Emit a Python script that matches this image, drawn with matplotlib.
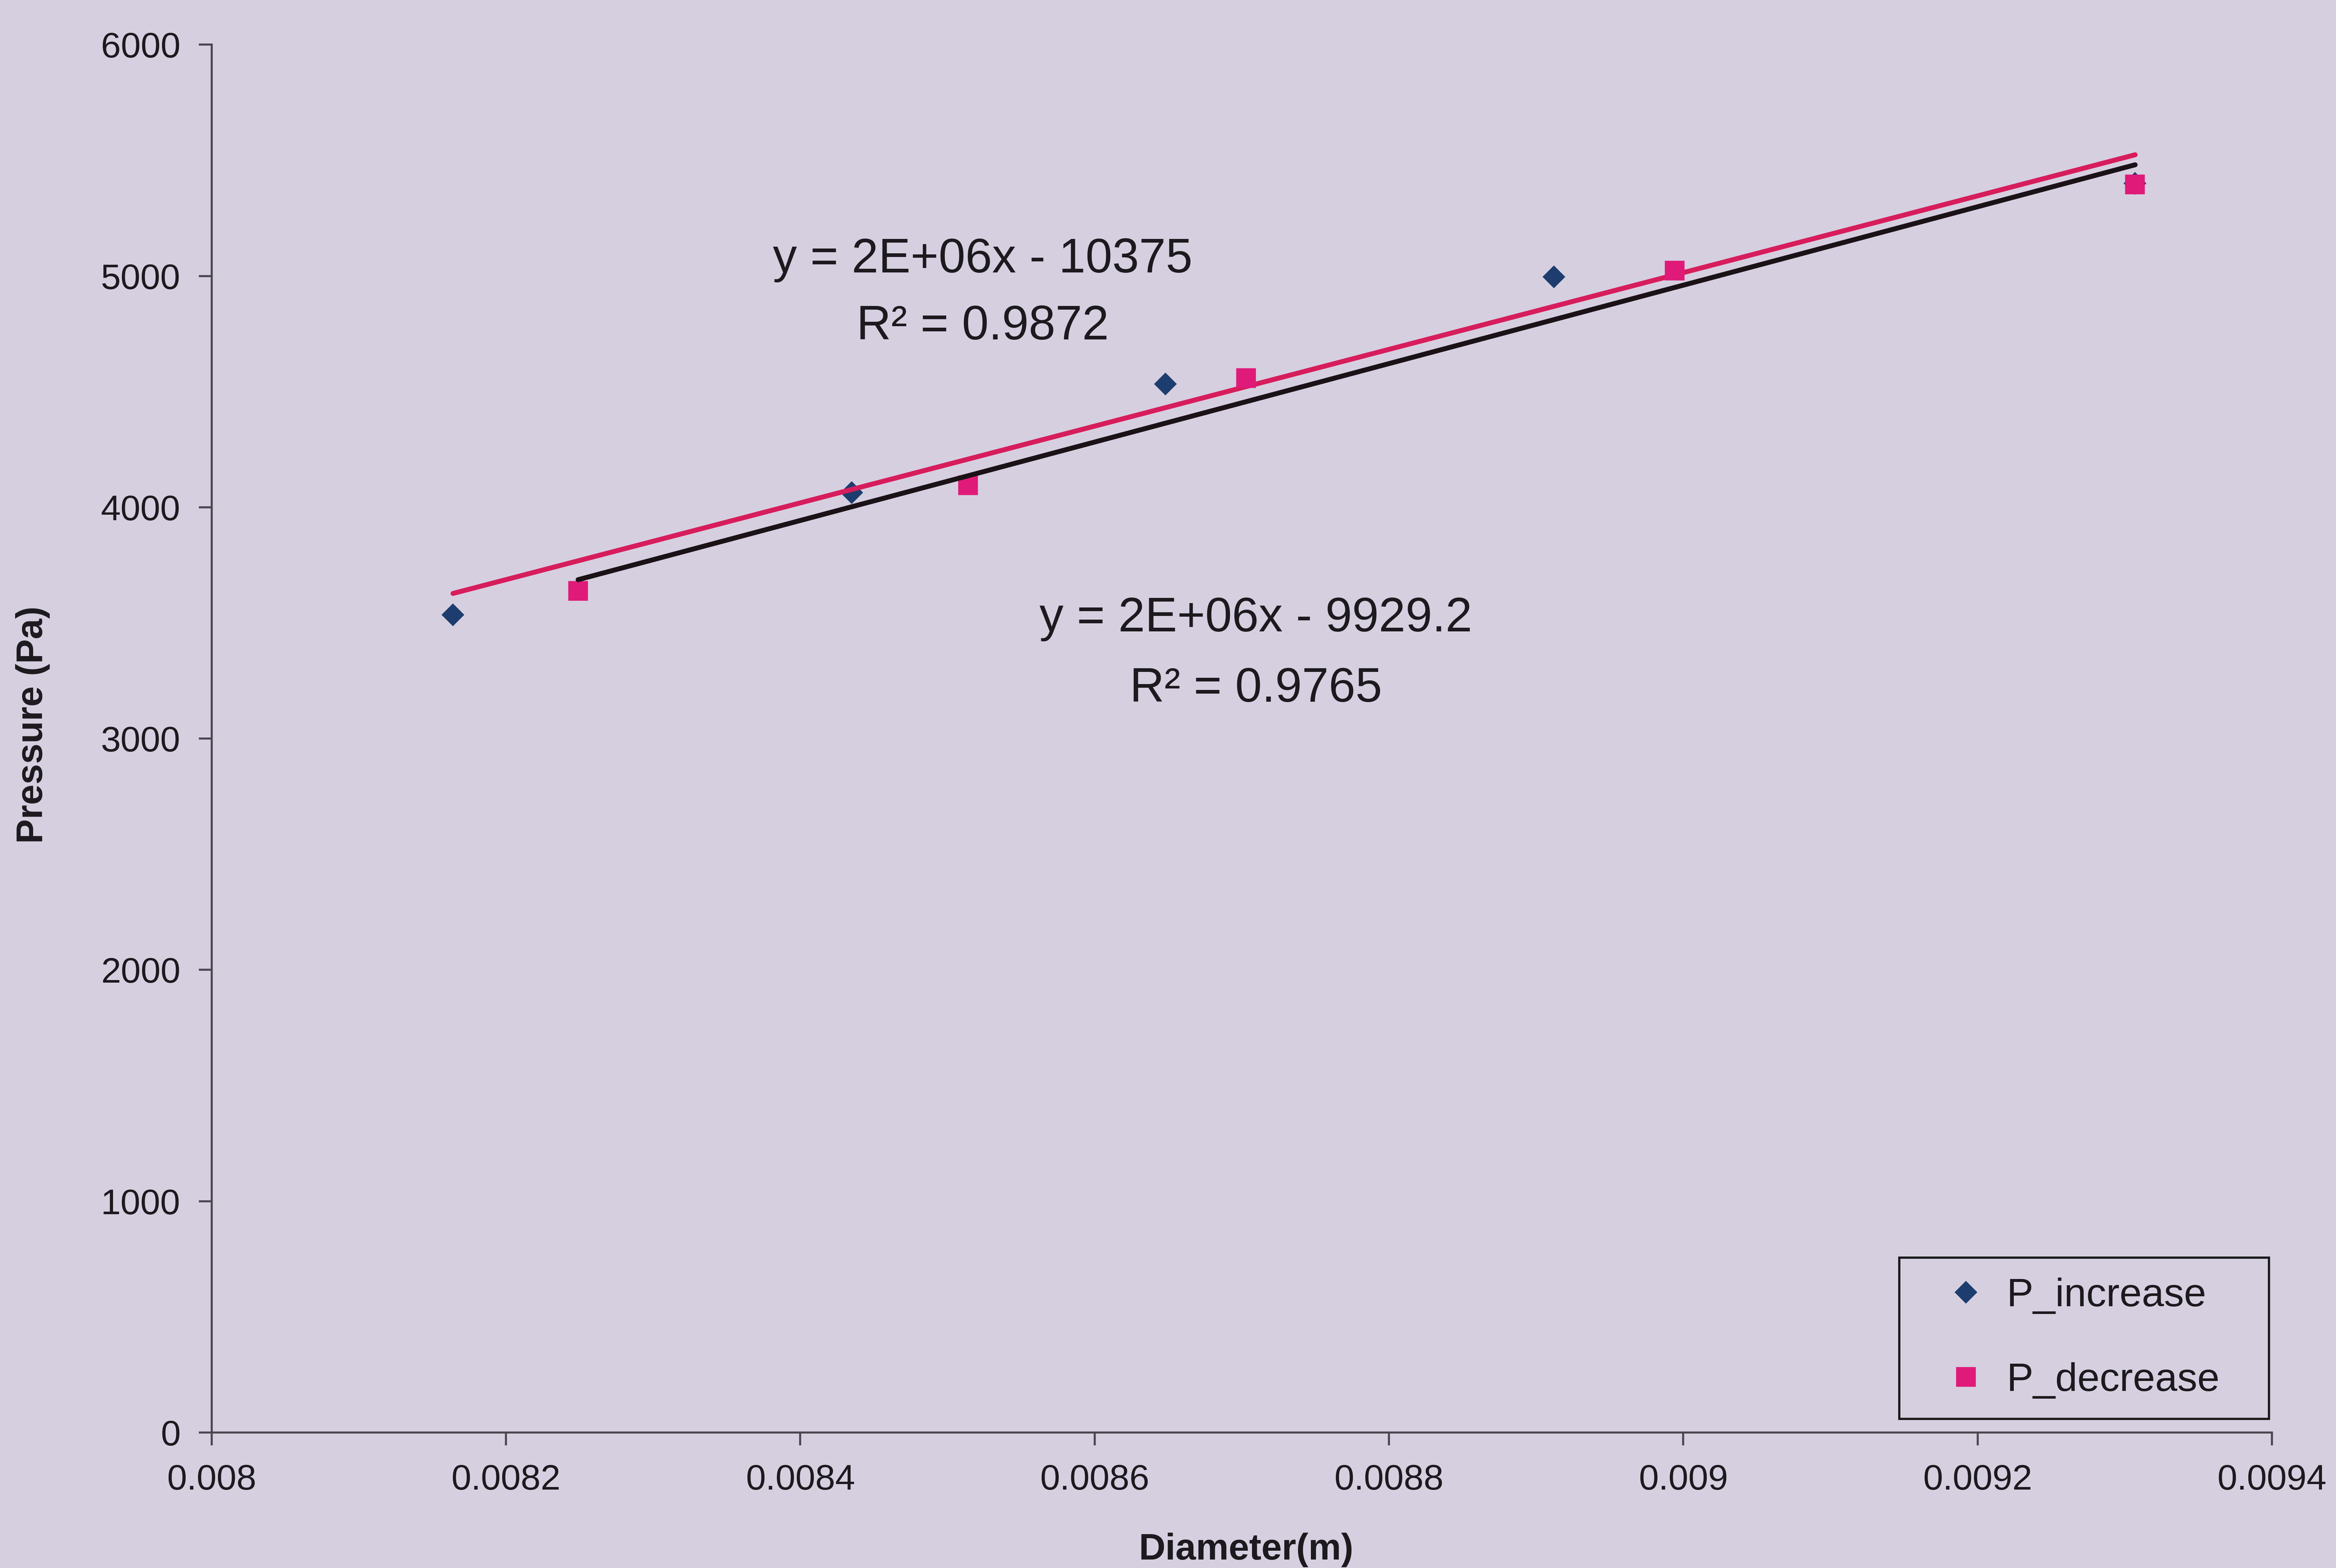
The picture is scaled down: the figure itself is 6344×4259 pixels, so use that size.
import numpy as np
import matplotlib
matplotlib.use("Agg")
import matplotlib.pyplot as plt

plt.rcParams['font.family'] = ['Liberation Sans', 'DejaVu Sans']

# measured diameters (m) and pressures (Pa)
d_increase = [0.008164, 0.008435, 0.008648, 0.008912, 0.009307]
p_increase = [3535, 4063, 4533, 4997, 5400]
d_decrease = [0.008249, 0.008514, 0.008703, 0.008994, 0.009307]
p_decrease = [3638, 4095, 4559, 5023, 5396]

x_ticks = [0.008, 0.0082, 0.0084, 0.0086, 0.0088, 0.009, 0.0092, 0.0094]
x_ticklabels = ['0.008', '0.0082', '0.0084', '0.0086', '0.0088', '0.009', '0.0092', '0.0094']
y_ticks = [0, 1000, 2000, 3000, 4000, 5000, 6000]

eq_increase = ['y = 2E+06x - 9929.2', 'R\u00b2 = 0.9765']
eq_decrease = ['y = 2E+06x - 10375', 'R\u00b2 = 0.9872']

bg = '#d6cfe0'
ink = '#1c1a1e'

fig = plt.figure(figsize=(15.86, 10.6475), dpi=400, facecolor=bg)
ax = fig.add_axes([0.0906, 0.0864, 0.882, 0.8851], facecolor=bg)


def trend(x, y):
    k, b = np.polyfit(x, y, 1)
    xs = np.array([min(x), max(x)])
    return xs, k * xs + b


# series 1 markers + trendline, then series 2 markers + trendline
ax.plot(d_increase, p_increase, ls='none', marker='D', ms=6.8,
        color='#1d3d6e', label='P_increase', zorder=3)
xs, ys = trend(d_increase, p_increase)
ax.plot(xs, ys, color='#d71d5c', lw=2.4, solid_capstyle='round', zorder=4)

ax.plot(d_decrease, p_decrease, ls='none', marker='s', ms=8.5,
        color='#e01a78', label='P_decrease', zorder=5)
xs, ys = trend(d_decrease, p_decrease)
ax.plot(xs, ys, color='#1a1216', lw=2.4, solid_capstyle='round', zorder=6)

# trendline equations
ax.text(0.008524, 5070, eq_decrease[0], ha='center', va='center', fontsize=23.5, color=ink)
ax.text(0.008524, 4780, eq_decrease[1], ha='center', va='center', fontsize=23.5, color=ink)
ax.text(0.0087095, 3518, eq_increase[0], ha='center', va='center', fontsize=23.5, color=ink)
ax.text(0.0087095, 3215, eq_increase[1], ha='center', va='center', fontsize=23.5, color=ink)

ax.set_xlim(0.008, 0.0094)
ax.set_ylim(0, 6000)
ax.set_xticks(x_ticks)
ax.set_xticklabels(x_ticklabels)
ax.set_yticks(y_ticks)

for s in ['top', 'right']:
    ax.spines[s].set_visible(False)
for s in ['left', 'bottom']:
    ax.spines[s].set_color('#4a4650')
    ax.spines[s].set_linewidth(1.0)

ax.tick_params(axis='both', direction='out', length=6.3, width=1.0,
               color='#4a4650', labelsize=17.5, labelcolor=ink)
ax.tick_params(axis='x', pad=9)
ax.tick_params(axis='y', pad=9)

ax.set_xlabel('Diameter(m)', fontsize=18, fontweight='bold', color=ink)
ax.xaxis.label.set_va('center')
ax.xaxis.set_label_coords(0.502, -0.0845)
ax.set_ylabel('Pressure (Pa)', fontsize=18, fontweight='bold', color=ink)
ax.yaxis.label.set_va('center')
ax.yaxis.set_label_coords(-0.0868, 0.51)

leg = ax.legend(loc='lower left', bbox_to_anchor=(0.8131, 0.095, 0.1582, 0.1026),
                bbox_transform=fig.transFigure, mode='expand', borderaxespad=0,
                fontsize=19.5, frameon=True, fancybox=False, framealpha=1,
                facecolor=bg, edgecolor='#1a1a1a', borderpad=0.5,
                labelspacing=1.2, handlelength=2.33, handletextpad=-0.15)
leg.get_frame().set_linewidth(1.1)
for t in leg.get_texts():
    t.set_color(ink)

fig.savefig('out.png', dpi=400, facecolor=bg)
